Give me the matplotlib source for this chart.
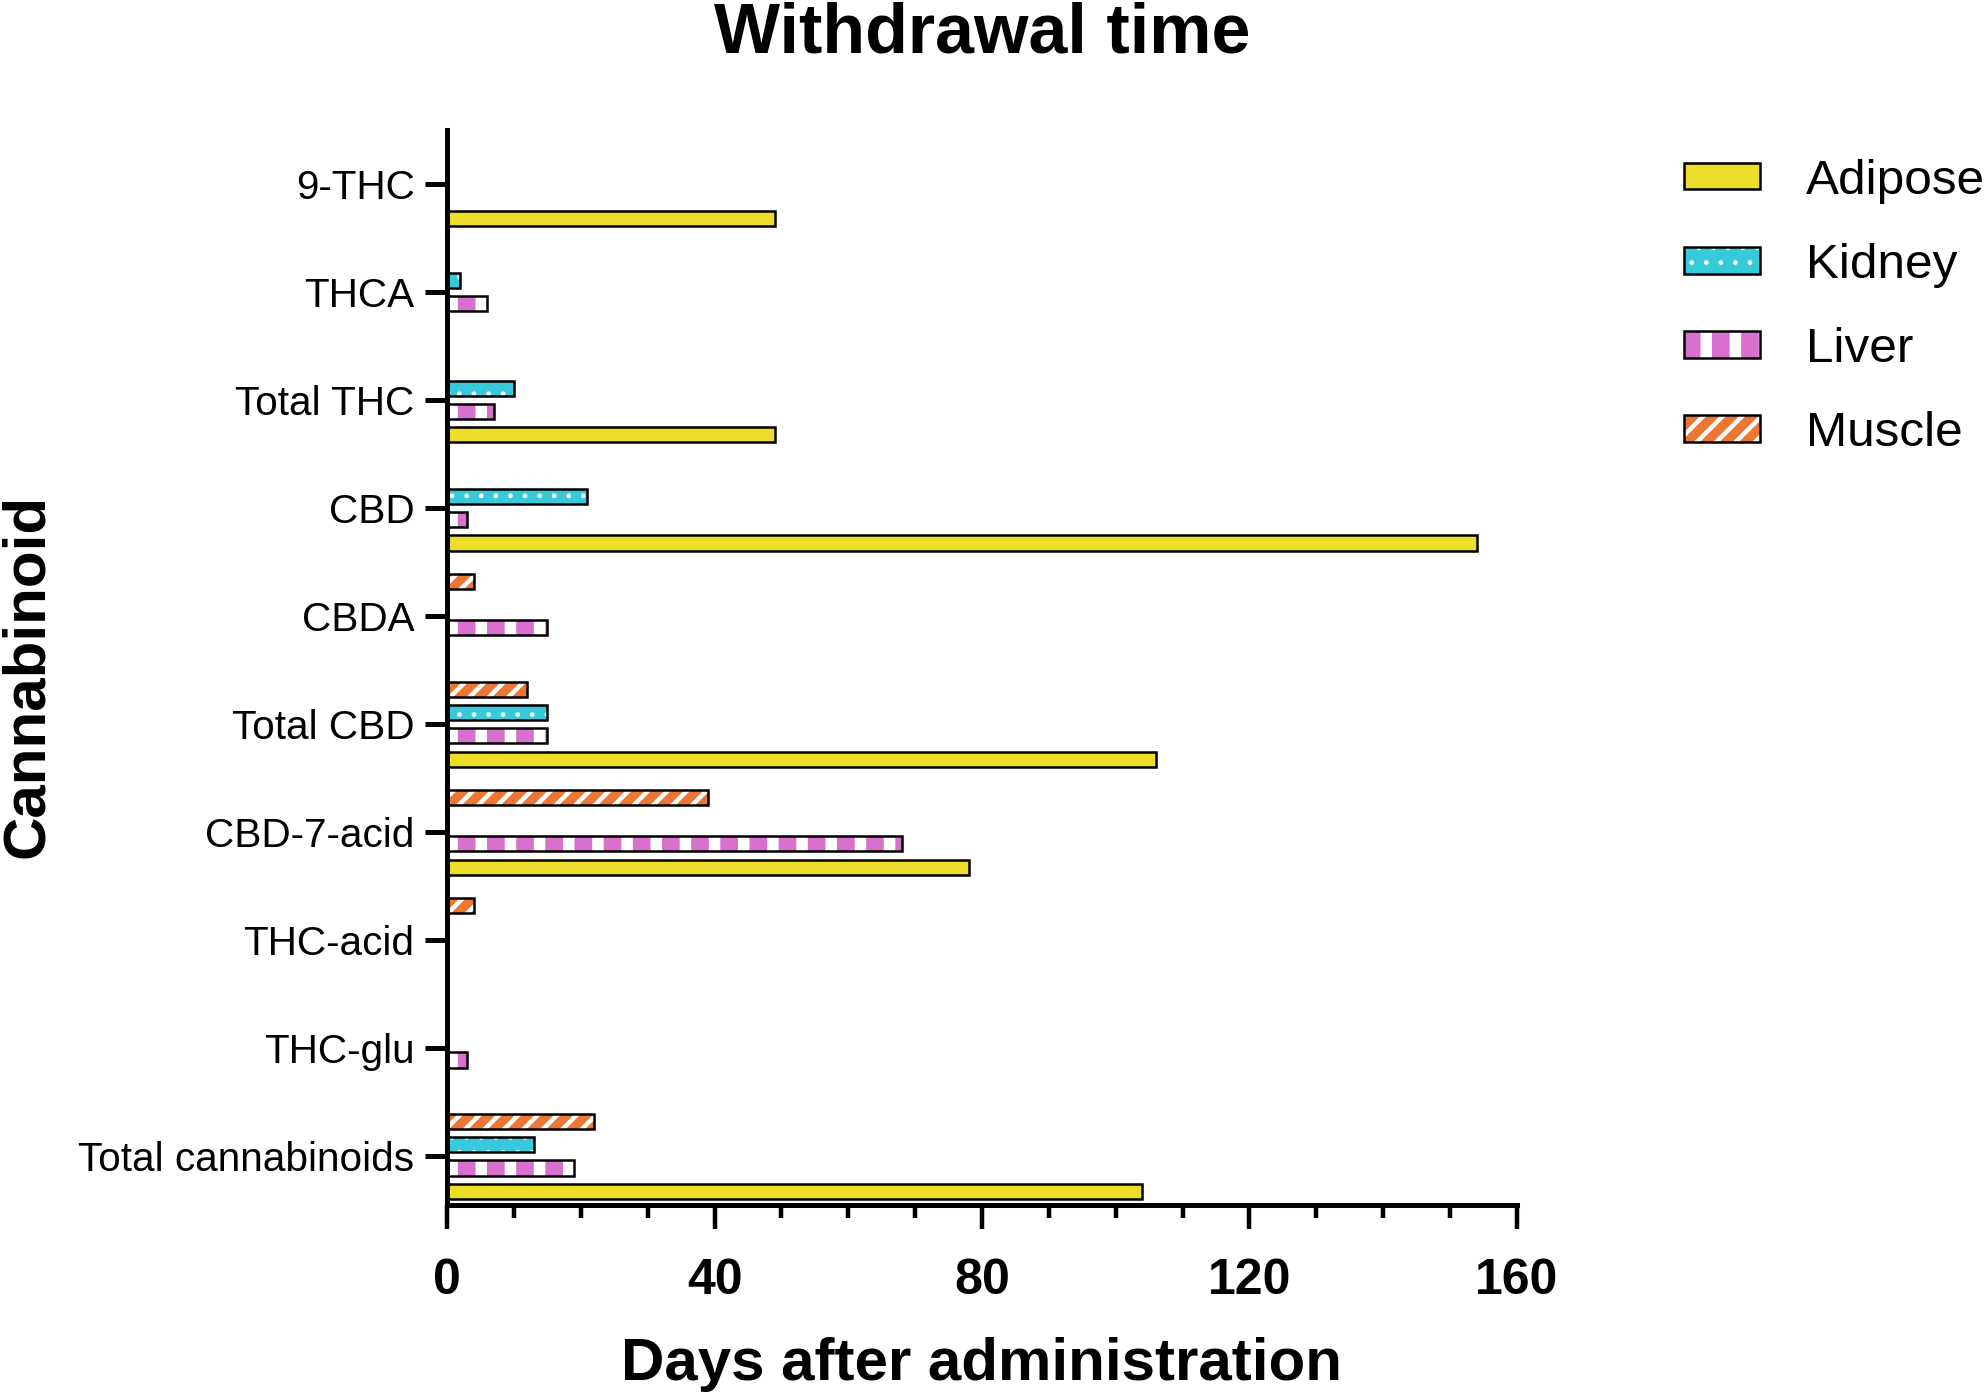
import numpy as np
import matplotlib
matplotlib.use("Agg")
import matplotlib.pyplot as plt
from matplotlib.patches import Rectangle
from matplotlib.ticker import MultipleLocator, FixedLocator

nan = np.nan

compounds = ["9-THC", "THCA", "Total THC", "CBD", "CBDA", "Total CBD",
             "CBD-7-acid", "THC-acid", "THC-glu", "Total cannabinoids"]
tissues = ["Adipose", "Kidney", "Liver", "Muscle"]
# withdrawal time (days after administration), nan = not reported
adipose = [49, nan, 49, 154, nan, 106, 78, nan, nan, 104]
kidney = [nan, 2, 10, 21, nan, 15, nan, nan, nan, 13]
liver = [nan, 6, 7, 3, 15, 15, 68, nan, 3, 19]
muscle = [nan, nan, nan, nan, 4, 12, 39, 4, nan, 22]

plt.rcParams["font.family"] = ["Liberation Sans", "DejaVu Sans"]

# dpi 175 -> hatch tile of 175 px, gives stripe/dot spacing close to the original
DPI = 175
fig = plt.figure(figsize=(1985 / DPI, 1396 / DPI), dpi=DPI)
ax = fig.add_axes([0.2252, 0.1368, 0.5390, 0.7701])

y = np.arange(len(compounds))
step, h = 0.215, 0.14
# (values, face, hatch, hatch lw, slot offset) -- muscle on top, adipose at bottom
styles = {
    "Adipose": (adipose, "#EEDC2A", None, 1.0, 1.5),
    "Kidney": (kidney, "#36CADB", "..", 0.72, -0.5),
    "Liver": (liver, "#D970CD", "|", 4.73, 0.5),
    "Muscle": (muscle, "#EC7633", "///", 1.85, -1.5),
}
hatch_lw = {v[2]: v[3] for v in styles.values() if v[2]}

handles = {}
for name in tissues:
    vals, face, hatch, hlw, off = styles[name]
    vals = np.array(vals, dtype=float)
    with plt.rc_context({"hatch.linewidth": hlw}):
        fill = ax.barh(y + off * step, vals, height=h, color=face, edgecolor="white",
                       hatch=hatch, linewidth=0, zorder=2)
        edge = ax.barh(y + off * step, vals, height=h, fill=False, edgecolor="black",
                       linewidth=1.03, zorder=3)
    for p in fill.patches:
        if hasattr(p, "set_hatch_linewidth"):
            p.set_hatch_linewidth(hlw)
    handles[name] = (fill.patches[0], edge.patches[0])

ax.set_xlim(0, 160)
ax.set_ylim(9.45, -0.5)
ax.xaxis.set_major_locator(MultipleLocator(40))
ax.xaxis.set_minor_locator(MultipleLocator(10))
ax.yaxis.set_major_locator(FixedLocator(y))
ax.set_yticklabels(compounds, fontsize=16.7)
for lab in ax.get_xticklabels():
    lab.set_fontweight("bold")
    lab.set_fontsize(20.6)

for s in ["top", "right"]:
    ax.spines[s].set_visible(False)
for s in ["left", "bottom"]:
    ax.spines[s].set_linewidth(2.06)
ax.tick_params(axis="x", which="major", length=9.9, width=1.85, pad=11.8)
ax.tick_params(axis="x", which="minor", length=5.55, width=1.85)
ax.tick_params(axis="y", which="major", length=9.25, width=2.06, pad=4.1)

ax.set_title("Withdrawal time", fontsize=28.8, fontweight="bold", y=1.0716, pad=0)
ax.set_xlabel("Days after administration", fontsize=24.7, fontweight="bold", va="top")
ax.xaxis.set_label_coords(0.5, -0.1228)
ax.set_ylabel("Cannabinoid", fontsize=24.7, fontweight="bold")
ax.yaxis.set_label_coords(-0.3666, 0.492)

leg = fig.legend([handles[t] for t in tissues], tissues, loc="upper left",
                 bbox_to_anchor=(0.8484, 0.8864), frameon=False, fontsize=20.35,
                 handlelength=1.54, handleheight=0.46, handletextpad=0.93,
                 labelspacing=0.79, borderpad=0, borderaxespad=0)
# legend copies of the patches lose the per-series hatch width
for p in leg.findobj(Rectangle):
    hp = p.get_hatch()
    if hp in hatch_lw and hasattr(p, "set_hatch_linewidth"):
        p.set_hatch_linewidth(hatch_lw[hp])

fig.savefig("out.png", dpi=DPI)
